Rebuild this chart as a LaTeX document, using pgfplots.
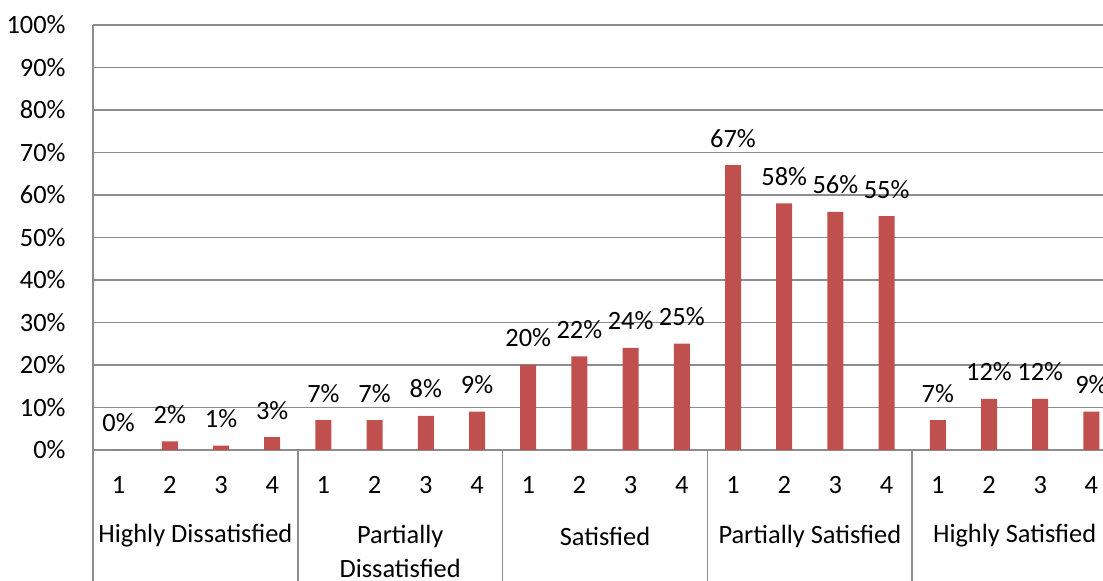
\documentclass[border=0pt]{standalone}
\usepackage{fontspec}
\setmainfont{Carlito}
\usepackage{pgfplots}
\pgfplotsset{compat=1.18}
\definecolor{barred}{HTML}{C0504D}
\definecolor{gridgray}{HTML}{8C8C8C}
\begin{document}
\fontsize{13.2}{15.8}\selectfont
\begin{tikzpicture}
\useasboundingbox (0,0) rectangle (551.5pt,290.5pt);
\clip (0,0) rectangle (551.5pt,290.5pt);
\begin{axis}[
 at={(46.5pt,65.5pt)}, anchor=south west,
 scale only axis, width=512pt, height=212.5pt,
 xmin=0.5, xmax=20.5, ymin=0, ymax=100,
 ytick={0,10,...,100},
 yticklabels={0\%,10\%,20\%,30\%,40\%,50\%,60\%,70\%,80\%,90\%,100\%},
 xtick={1,...,20},
 xticklabels={1,2,3,4,1,2,3,4,1,2,3,4,1,2,3,4,1,2,3,4},
 axis x line*=bottom, axis y line*=left,
 axis line style={draw=gridgray, line width=0.75pt, -},
 ymajorgrids, grid style={draw=gridgray, line width=0.75pt},
 major tick length=0pt,
 yticklabel style={anchor=east, inner sep=0pt, xshift=-13.5pt},
 xticklabel style={anchor=center, inner sep=0pt, yshift=-17.5pt},
 ybar, bar width=8pt,
 clip=false,
 /pgf/number format/assume math mode=true,
 nodes near coords={\pgfmathprintnumber{\pgfplotspointmeta}\%},
 nodes near coords style={anchor=center, inner sep=0pt, yshift=13.5pt},
]
\addplot[fill=barred, draw=none] coordinates {
 (1,0) (2,2) (3,1) (4,3)
 (5,7) (6,7) (7,8) (8,9)
 (9,20) (10,22) (11,24) (12,25)
 (13,67) (14,58) (15,56) (16,55)
 (17,7) (18,12) (19,12) (20,9)
};
\draw[gridgray, line width=0.75pt] (axis cs:0.5,0) -- ([yshift=-70pt]axis cs:0.5,0);
\draw[gridgray, line width=0.75pt] (axis cs:4.5,0) -- ([yshift=-70pt]axis cs:4.5,0);
\draw[gridgray, line width=0.75pt] (axis cs:8.5,0) -- ([yshift=-70pt]axis cs:8.5,0);
\draw[gridgray, line width=0.75pt] (axis cs:12.5,0) -- ([yshift=-70pt]axis cs:12.5,0);
\draw[gridgray, line width=0.75pt] (axis cs:16.5,0) -- ([yshift=-70pt]axis cs:16.5,0);
\draw[gridgray, line width=0.75pt] (axis cs:20.5,0) -- ([yshift=-70pt]axis cs:20.5,0);
\node[anchor=center, inner sep=0pt] at ([yshift=-43pt]axis cs:2.5,0) {Highly Dissatisfied};
\node[anchor=center, inner sep=0pt] at ([yshift=-43pt]axis cs:6.5,0) {Partially};
\node[anchor=center, inner sep=0pt] at ([yshift=-59pt]axis cs:6.5,0) {Dissatisfied};
\node[anchor=center, inner sep=0pt] at ([yshift=-43pt]axis cs:10.5,0) {Satisfied};
\node[anchor=center, inner sep=0pt] at ([yshift=-43pt]axis cs:14.5,0) {Partially Satisfied};
\node[anchor=center, inner sep=0pt] at ([yshift=-43pt]axis cs:18.5,0) {Highly Satisfied};
\end{axis}
\end{tikzpicture}
\end{document}
